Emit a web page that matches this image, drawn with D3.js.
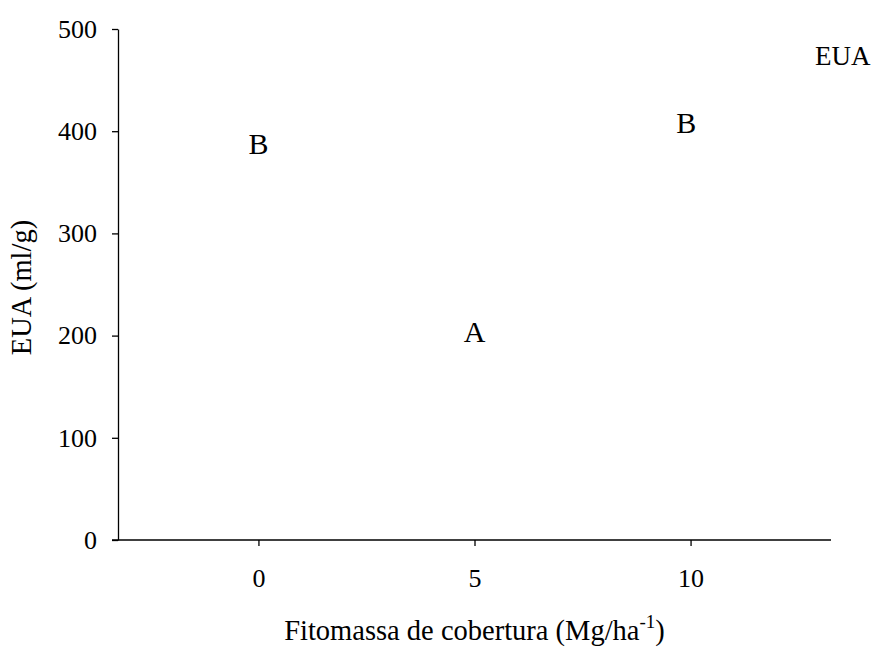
<!DOCTYPE html>
<html>
<head>
<meta charset="utf-8">
<script src="https://cdn.jsdelivr.net/npm/d3@7"></script>
<style>
  body { margin: 0; background: #fff; }
  text { font-family: "Liberation Serif", "Times New Roman", serif; fill: #000; }
  .axis path, .axis line { stroke: #000; stroke-width: 1.3; }
  .axis text { font-size: 26px; font-family: "Liberation Serif", serif; }
</style>
</head>
<body>
<div id="chart"></div>
<script>
/* CONSTANTS */
const width = 873,
  height = 647,
  margin = { top: 29, bottom: 107, left: 118, right: 42 };

// data
const doses = [0, 5, 9.9];            // Fitomassa de cobertura
const euaValues = [388, 204, 409];    // EUA (ml/g)
const letters = ["B", "A", "B"];      // Tukey letters
const xTicks = [0, 5, 10];
const yTicks = [0, 100, 200, 300, 400, 500];

const svg = d3.select("#chart")
  .append("svg")
  .attr("width", width)
  .attr("height", height);

const xScale = d3.scaleLinear()
  .domain([-3.25, 13.25])
  .range([margin.left, width - margin.right]);

const yScale = d3.scaleLinear()
  .domain([0, 500])
  .range([height - margin.bottom, margin.top]);

// y axis
svg.append("g")
  .attr("class", "axis y-axis")
  .attr("transform", `translate(${margin.left},0)`)
  .call(d3.axisLeft(yScale).tickValues(yTicks).tickSize(6).tickSizeOuter(0).tickPadding(15));

// x axis -- line starts at the y tick end, like the original
const xAxisG = svg.append("g")
  .attr("class", "axis x-axis")
  .attr("transform", `translate(0,${height - margin.bottom})`)
  .call(d3.axisBottom(xScale).tickValues(xTicks).tickSize(6).tickSizeOuter(0).tickPadding(23));
xAxisG.select(".domain").attr("d", `M${margin.left - 6},0H${width - margin.right}`);

// letters at the points
svg.selectAll("text.letter")
  .data(doses.map((d, i) => ({ x: d, y: euaValues[i], t: letters[i] })))
  .join("text")
  .attr("class", "letter")
  .attr("x", d => xScale(d.x))
  .attr("y", d => yScale(d.y))
  .attr("text-anchor", "middle")
  .attr("dominant-baseline", "central")
  .attr("font-size", 30)
  .text(d => d.t);

// series label top right
svg.append("text")
  .attr("x", 815)
  .attr("y", 65)
  .attr("font-size", 27)
  .text("EUA");

// axis titles
svg.append("text")
  .attr("transform", `translate(31,${(margin.top + height - margin.bottom) / 2 + 3}) rotate(-90)`)
  .attr("text-anchor", "middle")
  .attr("font-size", 28.5)
  .text("EUA (ml/g)");

const xLabel = svg.append("text")
  .attr("x", (margin.left + width - margin.right) / 2)
  .attr("y", 640)
  .attr("text-anchor", "middle")
  .attr("font-size", 28.5);
xLabel.append("tspan").text("Fitomassa de cobertura (Mg/ha");
xLabel.append("tspan").attr("dy", -12).attr("font-size", 19).text("-1");
xLabel.append("tspan").attr("dy", 12).text(")");
</script>
</body>
</html>
